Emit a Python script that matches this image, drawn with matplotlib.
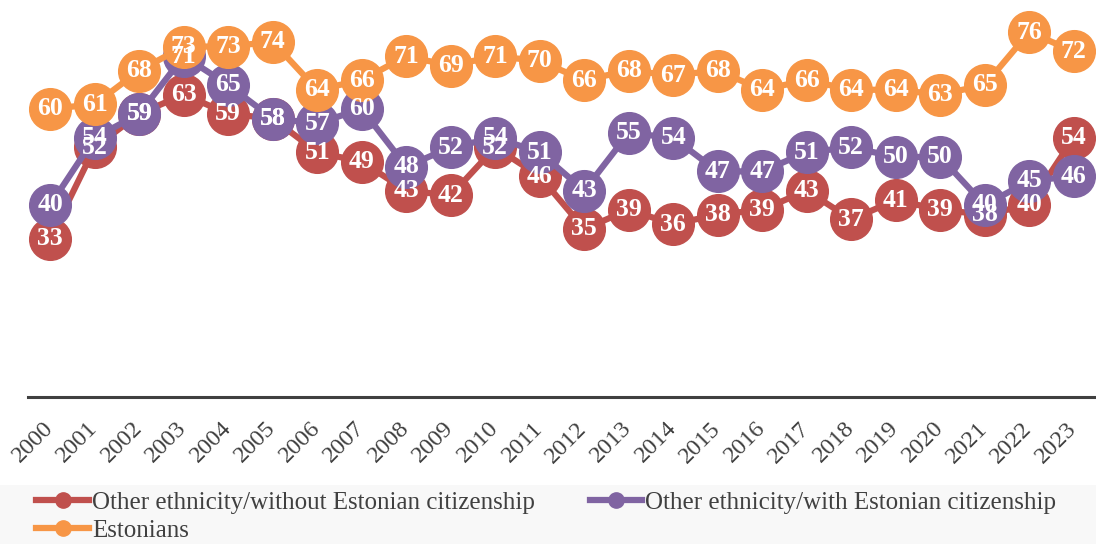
import matplotlib
matplotlib.use('Agg')
import matplotlib.pyplot as plt
import matplotlib.transforms as mtransforms
from matplotlib.patches import Rectangle

# Данные
years = [str(y) for y in range(2000, 2024)]
without_citizenship = [33, 52, 59, 63, 59, 58, 51, 49, 43, 42, 52, 46, 35, 39, 36, 38, 39, 43, 37, 41, 39, 38, 40, 54]
with_citizenship = [40, 54, 59, 71, 65, 58, 57, 60, 48, 52, 54, 51, 43, 55, 54, 47, 47, 51, 52, 50, 50, 40, 45, 46]
estonians = [60, 61, 68, 73, 73, 74, 64, 66, 71, 69, 71, 70, 66, 68, 67, 68, 64, 66, 64, 64, 63, 65, 76, 72]

series = [
    ("Other ethnicity/without Estonian citizenship", without_citizenship, "#C0504D"),
    ("Other ethnicity/with Estonian citizenship", with_citizenship, "#8064A2"),
    ("Estonians", estonians, "#F79646"),
]

plt.rcParams['font.family'] = ['Liberation Serif', 'DejaVu Serif']

fig = plt.figure(figsize=(10.96, 5.44), dpi=100)
ax = fig.add_axes([28 / 1096, 1 - 397 / 544, 1 - 28 / 1096, 397 / 544])

x = list(range(len(years)))
handles = {}
for i, (name, values, color) in enumerate(series):
    line, = ax.plot(x, values, color=color, lw=4.5, marker='o', ms=30,
                    mec=color, mfc=color, zorder=2 + i, clip_on=False, label=name)
    handles[name] = line

# Подписи значений поверх всех маркеров
for name, values, color in series:
    for xi, v in zip(x, values):
        ax.text(xi, v, str(v), ha='center', va='center', color='white',
                fontsize=18.5, fontweight='bold', zorder=10)

ax.set_xlim(-0.5, len(years) - 0.5)
ax.set_ylim(0, 82.7)
ax.set_xticks(x)
ax.set_xticklabels(years, rotation=45, ha='right', fontsize=17.5, color='#404040')
ax.tick_params(axis='x', length=0, pad=15)
# сдвиг подписей вправо
shift = mtransforms.ScaledTranslation(7 / 100, 0, fig.dpi_scale_trans)
for lbl in ax.get_xticklabels():
    lbl.set_transform(lbl.get_transform() + shift)
ax.set_yticks([])
for s in ['top', 'left', 'right']:
    ax.spines[s].set_visible(False)
ax.spines['bottom'].set_color('#404040')
ax.spines['bottom'].set_linewidth(2.2)
ax.patch.set_alpha(0)

# Фон легенды
fig.patches.append(Rectangle((0, 0), 1, 59 / 544, transform=fig.transFigure,
                             facecolor='#f8f8f8', edgecolor='none', zorder=0))

order = [series[0][0], series[2][0], series[1][0]]
leg_handles = []
for name in order:
    c = handles[name].get_color()
    h, = ax.plot([], [], color=c, lw=4.5, marker='o', ms=11, mec=c, mfc=c)
    leg_handles.append(h)
fig.legend(leg_handles, order, ncol=2, loc='lower left', bbox_to_anchor=(0.024, -0.014),
           frameon=False, fontsize=18, handlelength=2.1, handletextpad=0.12,
           columnspacing=2.2, labelspacing=0.2, borderaxespad=0, labelcolor='#404040')

fig.savefig("out.png", dpi=100)
plt.close()
